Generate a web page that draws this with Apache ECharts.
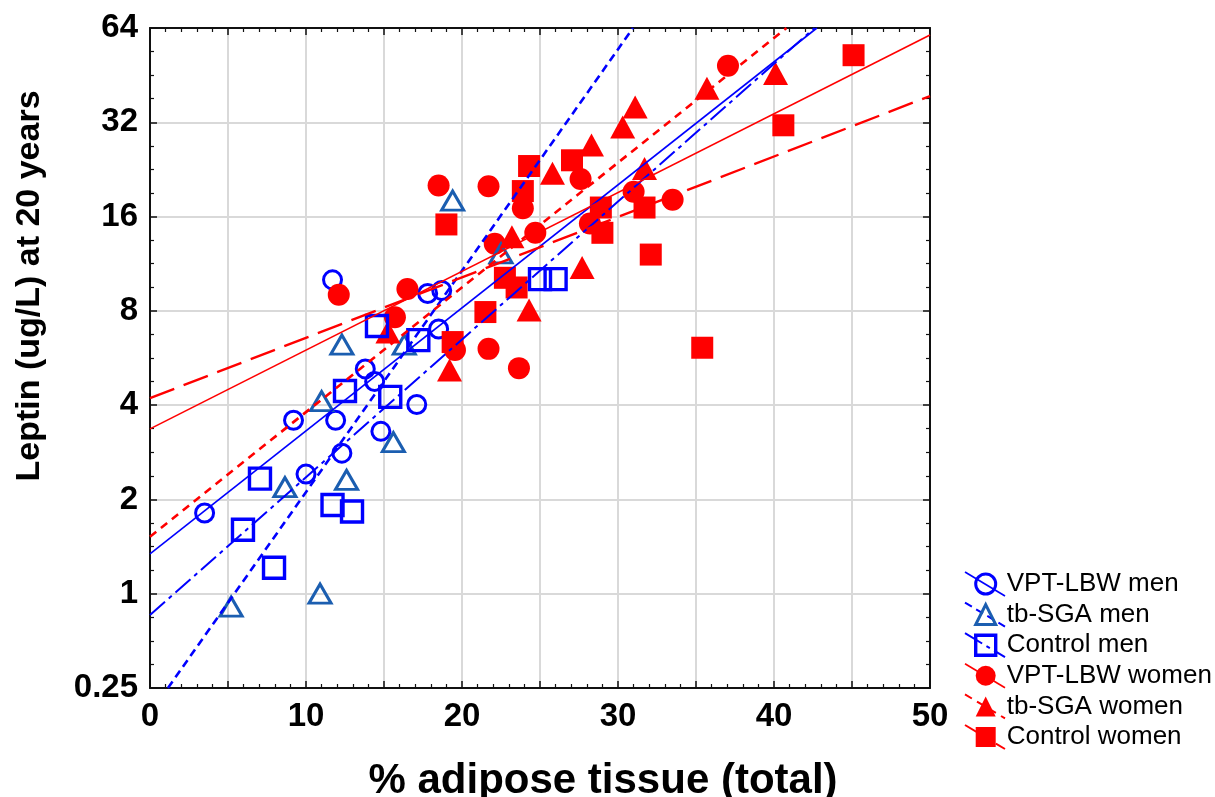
<!DOCTYPE html>
<html><head><meta charset="utf-8">
<script src="https://cdn.jsdelivr.net/npm/echarts@6/dist/echarts.min.js"></script>
<style>html,body{margin:0;padding:0;background:#fff}#c{width:1215px;height:797px}</style>
</head><body><div id="c"></div>
<script>
// ---------------- data ----------------
const seriesNames = ['VPT-LBW men','tb-SGA men','Control men','VPT-LBW women','tb-SGA women','Control women'];

// % adipose tissue (x) and leptin ug/L (y)
const vptMenX = [3.5, 9.2, 10.0, 11.7, 11.9, 12.3, 13.8, 14.4, 14.8, 17.1, 17.8, 18.7, 18.5];
const vptMenY = [1.81, 3.58, 2.41, 10.05, 3.58, 2.81, 5.22, 4.76, 3.3, 4.02, 9.09, 9.3, 7.0];
const sgaMenX = [5.2, 10.9, 8.65, 12.6, 11.0, 12.3, 15.6, 16.3, 19.4, 22.5];
const sgaMenY = [0.91, 1.0, 2.19, 2.31, 4.12, 6.24, 3.05, 6.24, 18.0, 12.2];
const ctrlMenX = [5.96, 7.05, 7.95, 11.7, 12.95, 12.5, 14.55, 15.4, 17.2, 25.0, 26.0];
const ctrlMenY = [1.6, 2.33, 1.21, 1.92, 1.83, 4.44, 7.16, 4.25, 6.45, 10.1, 10.1];
const vptWomenX = [12.1, 16.5, 15.7, 18.5, 21.7, 22.1, 23.9, 24.7, 19.55, 21.7, 23.65, 27.6, 28.2, 31.0, 33.5, 37.05];
const vptWomenY = [9.0, 9.4, 7.63, 20.1, 20.0, 13.1, 17.0, 14.2, 6.0, 6.05, 5.25, 21.1, 15.2, 19.2, 18.1, 48.5];
const sgaWomenX = [15.25, 19.2, 23.2, 24.3, 25.8, 27.7, 28.3, 30.3, 31.1, 31.7, 35.7, 40.1];
const sgaWomenY = [6.85, 5.18, 13.8, 8.05, 22.0, 11.0, 27.1, 30.9, 35.8, 22.8, 41.1, 45.8];
const ctrlWomenX = [19.0, 19.4, 21.5, 22.75, 23.5, 23.9, 24.3, 27.05, 28.9, 29.0, 31.7, 32.1, 35.4, 40.6, 45.1];
const ctrlWomenY = [15.1, 6.36, 7.93, 10.2, 9.5, 19.3, 23.2, 24.2, 17.1, 14.2, 17.1, 12.1, 6.1, 31.3, 52.4];

// regression lines: end points (x, leptin)
const fitVptMenX = [0, 42.75],   fitVptMenY = [1.34, 64];
const fitSgaMenX = [1.15, 30.96], fitSgaMenY = [0.5, 64];
const fitCtrlMenX = [0, 42.6],   fitCtrlMenY = [0.855, 64];
const fitVptWomenX = [0, 50],    fitVptWomenY = [3.36, 60.8];
const fitSgaWomenX = [0, 40.8],  fitSgaWomenY = [1.52, 64];
const fitCtrlWomenX = [0, 50],   fitCtrlWomenY = [4.21, 38.8];

// axis tick labels (log2 scale, bottom tick printed as 0.25)
const yTickLabels = ['0.25', '1', '2', '4', '8', '16', '32', '64'];
const xTickLabels = ['0', '10', '20', '30', '40', '50'];

// ---------------- chart ----------------
const BLUE = '#0000FF', TRI_BLUE = '#1B5EB0', RED = '#FF0000';
const FONT = '"Liberation Sans", Arial, sans-serif';
const toPts = (xs, ys) => xs.map((x, i) => [x, Math.log2(ys[i])]);

const scatterDefs = [
  {name: seriesNames[0], x: vptMenX, y: vptMenY, symbol: 'circle', size: 18, hollow: true, color: BLUE, bw: 3},
  {name: seriesNames[1], x: sgaMenX, y: sgaMenY, symbol: 'triangle', size: [22, 19], hollow: true, color: TRI_BLUE, bw: 3},
  {name: seriesNames[2], x: ctrlMenX, y: ctrlMenY, symbol: 'rect', size: 21, hollow: true, color: BLUE, bw: 3.4},
  {name: seriesNames[3], x: vptWomenX, y: vptWomenY, symbol: 'circle', size: 22, hollow: false, color: RED},
  {name: seriesNames[4], x: sgaWomenX, y: sgaWomenY, symbol: 'triangle', size: [25, 23], hollow: false, color: RED},
  {name: seriesNames[5], x: ctrlWomenX, y: ctrlWomenY, symbol: 'rect', size: 22, hollow: false, color: RED}
];
// draw order as in the reference
const drawOrder = [0, 3, 1, 4, 2, 5];

const fitDefs = [
  {x: fitVptMenX, y: fitVptMenY, color: BLUE, width: 1.6, type: 'solid'},
  {x: fitSgaMenX, y: fitSgaMenY, color: BLUE, width: 2.6, type: [8, 5]},
  {x: fitCtrlMenX, y: fitCtrlMenY, color: BLUE, width: 2, type: [20, 5, 4, 5]},
  {x: fitVptWomenX, y: fitVptWomenY, color: RED, width: 1.6, type: 'solid'},
  {x: fitSgaWomenX, y: fitSgaWomenY, color: RED, width: 2.6, type: [8, 6]},
  {x: fitCtrlWomenX, y: fitCtrlWomenY, color: RED, width: 2.4, type: [26, 10]}
];

const styleOf = d => d.hollow
  ? {color: 'rgba(0,0,0,0)', borderColor: d.color, borderWidth: d.bw, opacity: 1}
  : {color: d.color, borderWidth: 0, opacity: 1};

const series = [];
drawOrder.forEach(i => {
  const d = scatterDefs[i];
  series.push({
    type: 'scatter', name: d.name, z: 2,
    symbol: d.symbol, symbolSize: d.size,
    data: toPts(d.x, d.y),
    itemStyle: styleOf(d),
    emphasis: {disabled: true}
  });
});
fitDefs.forEach((f, i) => {
  series.push({
    type: 'line', name: 'fit ' + seriesNames[i], z: 3, clip: true,
    data: toPts(f.x, f.y), showSymbol: false, symbol: 'none',
    lineStyle: {color: f.color, width: f.width, type: f.type, opacity: 1},
    emphasis: {disabled: true}, silent: true
  });
});

const axisLineStyle = {show: true, onZero: false, lineStyle: {color: '#111', width: 2}};
const tickStyle = {show: true, inside: true, length: 7, lineStyle: {color: '#111', width: 1.5}};
const minorStyle = (n) => ({show: true, splitNumber: n, length: 4, lineStyle: {color: '#111', width: 1.2}});
const gridLine = {show: true, lineStyle: {color: '#d9d9d9', width: 2}};

const xBase = {type: 'value', min: 0, max: 50, interval: 5, axisLine: axisLineStyle, axisTick: tickStyle, minorTick: minorStyle(5)};
const yBase = {type: 'value', min: -1, max: 6, interval: 1, axisLine: axisLineStyle, axisTick: tickStyle, minorTick: minorStyle(4)};

// legend layout
const legendLeft = 974, legendTop = 571, legendStep = 30.6, legendRow = 26;
const legendGraphics = fitDefs.map((f, i) => {
  const cy = legendTop + legendRow / 2 + i * legendStep;
  return {
    type: 'line', z: 1,
    shape: {x1: 965, y1: cy - 12, x2: 1005, y2: cy + 12},
    style: {stroke: f.color, lineWidth: Math.min(f.width, 2), lineDash: f.type === 'solid' ? null : f.type}
  };
});

const option = {
  backgroundColor: '#fff',
  animation: false,
  grid: {left: 150, top: 28, width: 780, height: 660, containLabel: false},
  xAxis: [
    Object.assign({}, xBase, {position: 'bottom', splitLine: gridLine,
      axisLabel: {show: true, margin: 12, color: '#000', fontFamily: FONT, fontWeight: 'bold', fontSize: 33,
        showMinLabel: true, showMaxLabel: true,
        formatter: v => (v % 10 === 0 ? xTickLabels[v / 10] : '')}}),
    Object.assign({}, xBase, {position: 'top', splitLine: {show: false}, axisLabel: {show: false}})
  ],
  yAxis: [
    Object.assign({}, yBase, {position: 'left', splitLine: gridLine,
      axisLabel: {show: true, margin: 12, color: '#000', fontFamily: FONT, fontWeight: 'bold', fontSize: 33,
        showMinLabel: true, showMaxLabel: true,
        formatter: v => yTickLabels[Math.round(v) + 1]}}),
    Object.assign({}, yBase, {position: 'right', splitLine: {show: false}, axisLabel: {show: false}})
  ],
  legend: {
    orient: 'vertical', left: legendLeft, top: legendTop, padding: 0, z: 4,
    itemWidth: 20, itemHeight: 20, itemGap: legendStep - legendRow, itemTextGap: 8,
    selectedMode: false,
    textStyle: {fontFamily: FONT, fontSize: 26, color: '#000', lineHeight: legendRow, padding: [0, 0, 0, 6]},
    data: scatterDefs.map(d => ({name: d.name, icon: d.symbol, itemStyle: styleOf(d)}))
  },
  graphic: [
    {type: 'text', z: 5, x: 30, y: 286, rotation: Math.PI / 2,
      style: {text: 'Leptin (ug/L) at 20 years', fill: '#000', font: 'bold 34px ' + FONT, align: 'center', verticalAlign: 'middle'}},
    {type: 'text', z: 5, x: 603, y: 781,
      style: {text: '% adipose tissue (total)', fill: '#000', font: 'bold 42px ' + FONT, align: 'center', verticalAlign: 'middle'}}
  ].concat(legendGraphics),
  series: series
};

const chart = echarts.init(document.getElementById('c'), null, {renderer: 'canvas'});
chart.setOption(option);
</script></body></html>
